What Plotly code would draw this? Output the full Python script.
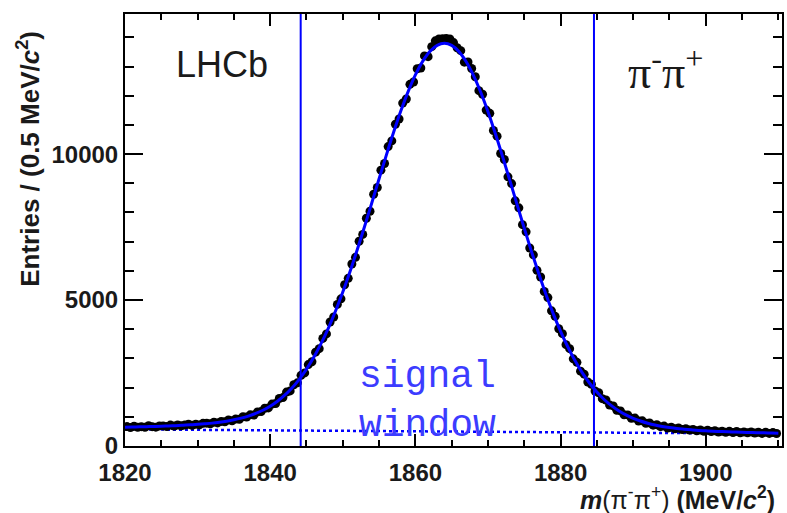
import plotly.graph_objects as go

# ---------------- data ----------------
# fitted curve (entries per 0.5 MeV/c^2) at integer masses 1820..1910
curve_mass = list(range(1820, 1911))
curve_vals = [
    644, 649, 656, 662, 668, 676, 688, 698, 711, 724,
    742, 762, 784, 814, 851, 897, 954, 1025, 1115, 1225,
    1364, 1534, 1740, 1989, 2284, 2632, 3039, 3505, 4032, 4624,
    5273, 5979, 6732, 7520, 8334, 9156, 9967, 10748, 11482, 12142,
    12713, 13177, 13519, 13727, 13797, 13724, 13511, 13164, 12696, 12118,
    11452, 10713, 9924, 9107, 8278, 7456, 6658, 5898, 5183, 4527,
    3928, 3392, 2919, 2505, 2150, 1849, 1593, 1383, 1207, 1064,
    948, 855, 780, 719, 671, 632, 599, 575, 554, 535,
    521, 507, 496, 485, 477, 469, 463, 457, 451, 446,
    441,
]

# data points: bin centres (0.5 MeV/c^2 bins) and entries
bin_centres = [1820.25 + 0.5 * i for i in range(180)]
entries = [
    665, 633, 676, 644, 663, 641, 694, 662, 645, 689,
    689, 665, 716, 686, 721, 693, 719, 746, 709, 748,
    722, 777, 783, 759, 817, 792, 843, 832, 893, 866,
    926, 915, 1002, 992, 1068, 1063, 1168, 1178, 1295, 1304,
    1437, 1457, 1626, 1659, 1847, 1887, 2098, 2165, 2421, 2505,
    2789, 2887, 3216, 3334, 3687, 3840, 4250, 4421, 4851, 5041,
    5525, 5743, 6237, 6464, 7014, 7248, 7804, 8041, 8625, 8856,
    9449, 9679, 10257, 10453, 11022, 11204, 11747, 11887, 12390, 12470,
    12924, 12951, 13363, 13339, 13681, 13880, 13945, 13950, 13959, 13942,
    13821, 13644, 13544, 13151, 13157, 12933, 12652, 12173, 12052, 11509,
    11397, 10808, 10616, 10021, 9815, 9221, 8990, 8400, 8158, 7582,
    7336, 6783, 6548, 6018, 5789, 5292, 5084, 4631, 4442, 4018,
    3849, 3471, 3334, 2987, 2866, 2564, 2461, 2194, 2115, 1884,
    1825, 1622, 1576, 1401, 1374, 1221, 1201, 1070, 1065, 952,
    955, 853, 861, 779, 790, 714, 732, 663, 681, 617,
    644, 592, 618, 561, 590, 544, 569, 520, 547, 505,
    538, 496, 524, 479, 508, 468, 503, 464, 495, 451,
    483, 450, 482, 444, 471, 432, 470, 432, 460, 427,
]

# background component (linear)
bkg_mass = [1820, 1910]
bkg_vals = [570, 420]

# signal window edges
window_edges = [1844.2, 1884.6]

x_ticks = [1820, 1840, 1860, 1880, 1900]
y_ticks = [0, 5000, 10000]

X_RANGE = [1820, 1910.5]
Y_RANGE = [0, 14800]

BLUE = "#0000ff"
INK = "#1a1a1a"

fig = go.Figure()

fig.add_trace(go.Scatter(
    x=bkg_mass, y=bkg_vals, mode="lines",
    line=dict(color=BLUE, width=2.5, dash="dot"),
    hoverinfo="skip", showlegend=False,
))

fig.add_trace(go.Scatter(
    x=bin_centres, y=entries, mode="markers",
    marker=dict(color="black", size=9, line=dict(width=0)),
    showlegend=False,
))

fig.add_trace(go.Scatter(
    x=curve_mass, y=curve_vals, mode="lines",
    line=dict(color=BLUE, width=3, shape="spline"),
    showlegend=False,
))

# invisible trace so that the mirrored tick axes (top / right) are drawn
fig.add_trace(go.Scatter(
    x=[X_RANGE[0]], y=[Y_RANGE[0]], xaxis="x2", yaxis="y2", mode="markers",
    marker=dict(opacity=0), hoverinfo="skip", showlegend=False,
))

for xe in window_edges:
    fig.add_shape(type="line", xref="x", yref="paper",
                  x0=xe, x1=xe, y0=0, y1=1,
                  line=dict(color=BLUE, width=2), layer="above")

tick_font = dict(family="Liberation Sans", size=24, color=INK, weight="bold")

x_minor = dict(dtick=5, tick0=1820, ticks="inside", ticklen=6, tickwidth=2, tickcolor="black")
y_minor = dict(dtick=1000, tick0=0, ticks="inside", ticklen=9, tickwidth=2, tickcolor="black")

fig.update_layout(
    xaxis=dict(
        range=X_RANGE, showgrid=False, zeroline=False, automargin=False,
        showline=True, linecolor="black", linewidth=2, mirror=True,
        ticks="inside", ticklen=12, tickwidth=2, tickcolor="black",
        tickvals=x_ticks, ticktext=[str(v) for v in x_ticks],
        tickfont=tick_font, ticklabelstandoff=4,
        minor=x_minor,
    ),
    yaxis=dict(
        range=Y_RANGE, showgrid=False, zeroline=False, automargin=False,
        showline=True, linecolor="black", linewidth=2, mirror=True,
        ticks="inside", ticklen=18, tickwidth=2, tickcolor="black",
        tickvals=y_ticks, ticktext=[str(v) for v in y_ticks],
        tickfont=tick_font,
        minor=y_minor,
    ),
    xaxis2=dict(
        range=X_RANGE, overlaying="x", side="top", anchor="y",
        showgrid=False, zeroline=False, showline=False, automargin=False,
        ticks="inside", ticklen=12, tickwidth=2, tickcolor="black",
        tickvals=x_ticks, showticklabels=False,
        minor=x_minor,
    ),
    yaxis2=dict(
        range=Y_RANGE, overlaying="y", side="right", anchor="x",
        showgrid=False, zeroline=False, showline=False, automargin=False,
        ticks="inside", ticklen=18, tickwidth=2, tickcolor="black",
        tickvals=y_ticks, showticklabels=False,
        minor=y_minor,
    ),
)

annotations = [
    dict(text="<b>Entries / (0.5 MeV/<i>c</i><sup>2</sup>)</b>",
         xref="paper", yref="paper", x=-0.146, y=0.665, textangle=-90,
         showarrow=False, xanchor="center", yanchor="middle",
         font=dict(family="Liberation Sans", size=26, color=INK)),
    dict(text="<b><i>m</i></b>(π<sup>-</sup>π<sup>+</sup>) <b>(MeV/<i>c</i><sup>2</sup>)</b>",
         xref="paper", yref="paper", x=0.992, y=-0.12,
         showarrow=False, xanchor="right", yanchor="middle",
         font=dict(family="Liberation Sans", size=25, color=INK)),
    dict(text="LHCb", xref="paper", yref="paper", x=0.148, y=0.882,
         showarrow=False, xanchor="center", yanchor="middle",
         font=dict(family="Liberation Sans", size=36, color=INK)),
    dict(text="π<sup>-</sup>π<sup>+</sup>", xref="paper", yref="paper", x=0.822, y=0.872,
         showarrow=False, xanchor="center", yanchor="middle",
         font=dict(family="Liberation Serif", size=46, color=INK)),
    dict(text="signal<br>window", xref="paper", yref="paper", x=0.461, y=0.104,
         showarrow=False, xanchor="center", yanchor="middle",
         font=dict(family="Liberation Mono", size=38, color="#3c3cff")),
]

fig.update_layout(
    width=787, height=513,
    margin=dict(l=125, r=5, t=14, b=67),
    paper_bgcolor="white", plot_bgcolor="white",
    showlegend=False,
    annotations=annotations,
)

fig.write_html("out.html",
               config={"displayModeBar": False},
               post_script="document.body.style.margin='0';document.body.style.overflow='hidden';")
